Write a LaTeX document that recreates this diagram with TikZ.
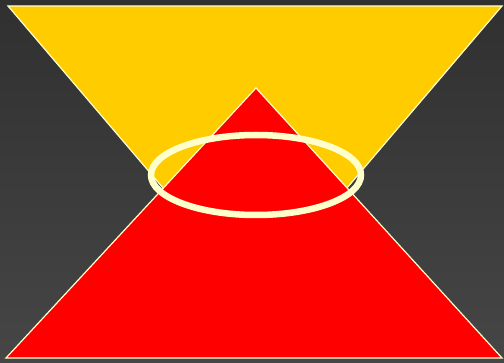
\documentclass[tikz,border=0pt]{standalone}
\usepackage{tikz}

\definecolor{bgtop}{HTML}{303030}
\definecolor{bgbot}{HTML}{464646}
\definecolor{gold}{HTML}{FFCC00}
\definecolor{cream}{HTML}{FFFFCC}

\begin{document}
\begin{tikzpicture}[
  x=1pt, y=-1pt,
  tri/.style={draw=cream, line width=1.2pt, line join=miter},
  halo/.style={draw=cream, line width=6.5pt},
]
  % backdrop
  \shade[top color=bgtop, bottom color=bgbot] (0,0) rectangle (504,363);
  \useasboundingbox (0,0) rectangle (504,363);

  % corner points of both triangles
  \foreach \name/\x/\y in {YL/8/6, YR/502/6, YA/255/296, RA/256/88, RL/6/358, RR/502/358}
    \coordinate (\name) at (\x, \y);

  \fill[gold, tri] (YL) -- (YR) -- (YA) -- cycle;
  \fill[red, tri] (RA) -- (RR) -- (RL) -- cycle;

  % ring round the crossing
  \draw[halo] (256,175) coordinate (ring) ellipse (105 and 40);
\end{tikzpicture}
\end{document}
